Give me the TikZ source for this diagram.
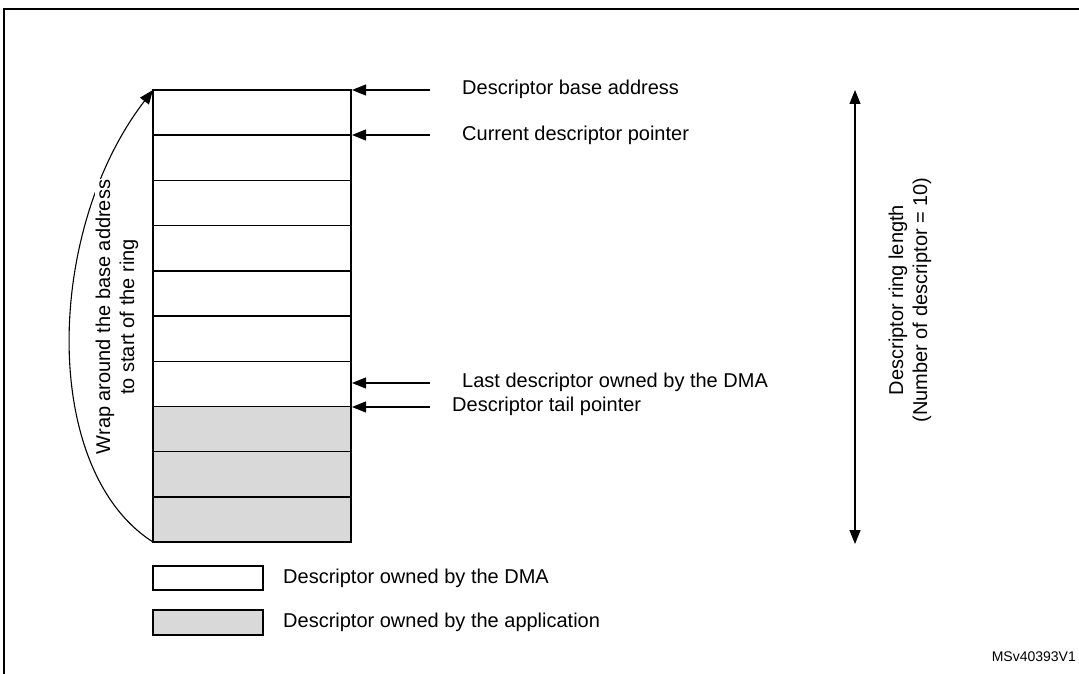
\documentclass[tikz,border=0pt]{standalone}
\usepackage{fontspec}
\setmainfont{Liberation Sans}
\usetikzlibrary{arrows.meta,positioning}
\definecolor{appgray}{HTML}{D9D9D9}
\tikzset{
  ptr/.style={-{Triangle[length=14pt,width=11pt]}, line width=1.1pt},
  lbl/.style={font=\fontsize{20}{24}\selectfont, inner sep=0pt},
  slot/.style={draw, line width=1.4pt},
}
\begin{document}
\begin{tikzpicture}[x=1pt,y=-1pt]
\useasboundingbox (0,0) rectangle (1079,674);
% frame
\draw[line width=1.8pt] (4,680) -- (4,9) -- (1085,9);

% ring of 10 descriptors
\foreach \i in {0,...,9}{
  \ifnum\i>6
    \filldraw[slot, fill=appgray] (153,90+45.2*\i) rectangle (351,90+45.2*\i+45.2);
  \else
    \draw[slot] (153,90+45.2*\i) rectangle (351,90+45.2*\i+45.2);
  \fi
}
\coordinate (ringtop) at (153,90);
\coordinate (ringbot) at (153,542);

% pointers
\node[lbl, anchor=west] (base) at (462,89) {Descriptor base address};
\node[lbl, anchor=west] (curr) at (462,135) {Current descriptor pointer};
\node[lbl, anchor=west] (last) at (462,382) {Last descriptor owned by the DMA};
\node[lbl, anchor=west] (tail) at (452,406) {Descriptor tail pointer};
\coordinate (basetip) at (352,90);
\coordinate (currtip) at (352,135);
\coordinate (lasttip) at (352,383);
\coordinate (tailtip) at (352,407);
\draw[ptr] ([xshift=-32pt]base.west |- basetip) -- (basetip);
\draw[ptr] ([xshift=-32pt]curr.west |- currtip) -- (currtip);
\draw[ptr] ([xshift=-32pt]last.west |- lasttip) -- (lasttip);
\draw[ptr] ([xshift=-22pt]tail.west |- tailtip) -- (tailtip);

% ring length
\coordinate (lentop) at (855,90);
\coordinate (lenbot) at (855,544);
\draw[{Triangle[length=14pt,width=11pt]}-{Triangle[length=14pt,width=11pt]}, line width=1.1pt] (lentop) -- (lenbot);
\node[lbl, rotate=90, align=center] (len) at (910,300) {Descriptor ring length\\(Number of descriptor = 10)};

% wrap around
\draw[ptr] (ringbot) .. controls (40,470) and (45,230) .. (ringtop);
\node[lbl, rotate=90, align=center, fill=white, inner sep=1pt] (wrap) at (117,317) {Wrap around the base address\\to start of the ring};

% legend
\draw[slot] (153,566) rectangle (263,590);
\filldraw[slot, fill=appgray] (153,610) rectangle (263,635);
\node[lbl, anchor=west] (ldma) at (283,578) {Descriptor owned by the DMA};
\node[lbl, anchor=west] (lapp) at (283,622) {Descriptor owned by the application};

\node[anchor=east, font=\fontsize{14}{16}\selectfont, inner sep=0pt] (ref) at (1076,657) {MSv40393V1};
\end{tikzpicture}
\end{document}
